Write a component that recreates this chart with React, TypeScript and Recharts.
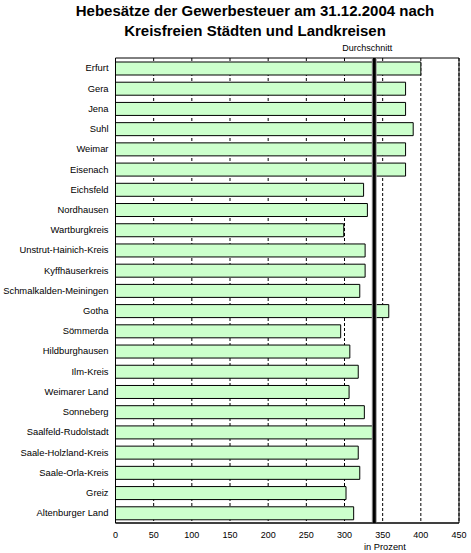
import React from 'react';
import {
  Bar,
  BarChart,
  CartesianGrid,
  ReferenceArea,
  ReferenceLine,
  XAxis,
  YAxis,
} from 'recharts';

const FONT = '"Liberation Sans", Arial, sans-serif';

// Hebesätze (in Prozent) je Kreisfreie Stadt / Landkreis
const regions = [
  'Erfurt',
  'Gera',
  'Jena',
  'Suhl',
  'Weimar',
  'Eisenach',
  'Eichsfeld',
  'Nordhausen',
  'Wartburgkreis',
  'Unstrut-Hainich-Kreis',
  'Kyffhäuserkreis',
  'Schmalkalden-Meiningen',
  'Gotha',
  'Sömmerda',
  'Hildburghausen',
  'Ilm-Kreis',
  'Weimarer Land',
  'Sonneberg',
  'Saalfeld-Rudolstadt',
  'Saale-Holzland-Kreis',
  'Saale-Orla-Kreis',
  'Greiz',
  'Altenburger Land',
];
const rates = [
  400, 380, 380, 390, 380, 380, 325, 330, 299, 327, 327, 320, 358, 295, 307, 318, 306, 326, 337, 318, 320,
  302, 312,
];
const average = 339;
const xTicks = [0, 50, 100, 150, 200, 250, 300, 350, 400, 450];

const data = regions.map((name, i) => ({ name, value: rates[i] }));

export default function App() {
  return (
    <div style={{ position: 'absolute', left: 0, top: 0, width: 471, height: 553, background: '#fff', fontFamily: FONT }}>
      <div
        style={{
          position: 'absolute',
          left: 0,
          top: 1,
          width: 510,
          textAlign: 'center',
          fontWeight: 'bold',
          fontSize: 15,
          lineHeight: '20px',
          color: '#000',
        }}
      >
        Hebesätze der Gewerbesteuer am 31.12.2004 nach
        <br />
        Kreisfreien Städten und Landkreisen
      </div>
      <BarChart
        width={471}
        height={553}
        data={data}
        layout="vertical"
        margin={{ top: 58, right: 12, bottom: 8, left: 0 }}
        barSize={13}
      >
        <CartesianGrid horizontal={false} stroke="#000" strokeDasharray="3 2" />
        <XAxis
          type="number"
          domain={[0, 450]}
          ticks={xTicks}
          interval={0}
          tickLine={false}
          tickSize={0}
          tickMargin={9}
          height={22}
          axisLine={{ stroke: '#000' }}
          tick={{ fontSize: 9, fill: '#000', fontFamily: FONT }}
        />
        <YAxis
          type="category"
          dataKey="name"
          width={115.5}
          interval={0}
          tickLine={false}
          tickSize={0}
          tickMargin={7}
          axisLine={{ stroke: '#000' }}
          tick={{ fontSize: 9.4, fill: '#000', fontFamily: FONT }}
        />
        <Bar dataKey="value" fill="#ccffcc" stroke="#000" strokeWidth={1} isAnimationActive={false} />
        <ReferenceArea x1={0} x2={450} fill="none" fillOpacity={0} stroke="#000" strokeWidth={1} />
        <ReferenceLine x={average} stroke="#9a9a9a" strokeWidth={5} />
        <ReferenceLine
          x={average}
          stroke="#000"
          strokeWidth={3}
          label={{
            value: 'Durchschnitt',
            position: 'top',
            offset: 7,
            dx: -7,
            fontSize: 9,
            fill: '#000',
            fontFamily: FONT,
          }}
        />
      </BarChart>
      <div
        style={{
          position: 'absolute',
          left: 364,
          top: 542,
          fontSize: 9.3,
          lineHeight: '10px',
          color: '#000',
          whiteSpace: 'nowrap',
        }}
      >
        in Prozent
      </div>
    </div>
  );
}
